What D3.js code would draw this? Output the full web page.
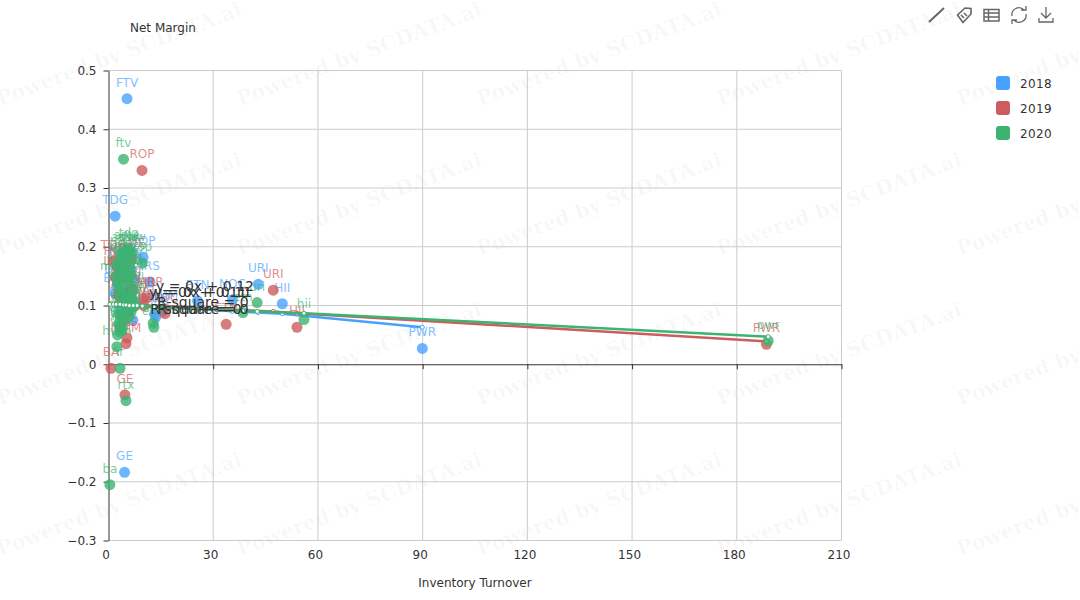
<!DOCTYPE html>
<html>
<head>
<meta charset="utf-8">
<script src="https://cdnjs.cloudflare.com/ajax/libs/d3/7.8.5/d3.min.js"></script>
<style>
  html, body { margin: 0; background: #fff; }
  svg { display: block; font-family: "DejaVu Sans", sans-serif; }
</style>
</head>
<body>
<div id="chart"></div>
<script>
// values
const years = ["2018", "2019", "2020"];
const colors = ["#47a2ff", "#cd5c5c", "#3cb371"];

const xTicks = [0, 30, 60, 90, 120, 150, 180, 210];
const yTicks = [-0.3, -0.2, -0.1, 0, 0.1, 0.2, 0.3, 0.4, 0.5];

const labels2018 = ["FTV", "TDG", "URI", "HII", "PWR", "GE", "ROP", "IRS", "AME", "ITW", "HON", "TDY", "ETN", "NOC", "EMR", "DOV", "BAC", "LMT", "GD", "HEI", "TXT", "PH", "CMI", "MMM", "FLS", "XYL", "PNR"];
const x2018 = [5.3, 1.9, 42.9, 49.8, 89.9, 4.6, 9.9, 11.9, 5.0, 6.5, 4.0, 4.5, 25.5, 35.5, 13.5, 2.5, 2.0, 3.6, 6.0, 3.0, 5.6, 13.2, 7.5, 15.5, 3.4, 4.9, 7.0];
const y2018 = [0.452, 0.252, 0.136, 0.103, 0.027, -0.184, 0.182, 0.14, 0.165, 0.16, 0.17, 0.115, 0.108, 0.11, 0.08, 0.135, 0.12, 0.095, 0.105, 0.155, 0.09, 0.085, 0.145, 0.09, 0.062, 0.125, 0.075];

const labels2019 = ["ROP", "URI", "HII", "PWR", "GE", "BA", "TDG", "AME", "HON", "TDY", "ETN", "NOC", "EMR", "MMM", "ITW", "CARR", "LMT", "GD", "RTX", "TXT", "HEI", "XYL", "DOV", "WAT", "PH", "FLS", "CMI"];
const x2019 = [9.6, 47.2, 54, 188.5, 4.7, 0.7, 1.4, 6.8, 2.5, 4.2, 33.7, 16.2, 9.8, 5.0, 6.0, 11, 2.0, 3.3, 5.4, 4.0, 6.6, 2.8, 7.2, 10.1, 4.6, 5.3, 3.6];
const y2019 = [0.33, 0.126, 0.063, 0.034, -0.052, -0.007, 0.175, 0.18, 0.165, 0.15, 0.068, 0.086, 0.112, 0.035, 0.122, 0.113, 0.148, 0.105, 0.09, 0.16, 0.13, 0.118, 0.098, 0.1, 0.075, 0.045, 0.17];

const labels2020 = ["ftv", "ame", "rop", "hii", "pwr", "ba", "rtx", "uri", "ir", "tdg", "tdy", "hon", "etn", "noc", "emr", "hwm", "itw", "lmt", "gd", "heico", "txt", "ph", "dov", "xyl", "cmi", "mmm", "fls", "irm", "pnr", "cat", "de", "otis", "carr", "wab", "aos", "alle", "gww", "ex", "cr", "cw", "dci", "ddd", "nvt", "jci", "lii", "mas", "nsc", "csx", "unp", "rsg", "wm", "ge"];
const x2020 = [4.3, 5.2, 9.7, 56, 189, 0.4, 5, 42.6, 3.3, 5.8, 2.2, 3.6, 38.5, 12.8, 13, 2.4, 3.4, 4.2, 5.4, 6.3, 2.9, 4.8, 6.0, 3.9, 7.1, 2.6, 3.0, 5.1, 4.5, 6.7, 3.2, 5.6, 7.6, 4.0, 3.8, 5.5, 6.8, 2.5, 3.5, 4.5, 5.5, 6.5, 3.0, 4.0, 5.8, 6.8, 3.5, 4.5, 5.8, 6.5, 3.0, 2.6];
const y2020 = [0.349, 0.192, 0.172, 0.076, 0.04, -0.205, -0.062, 0.105, -0.007, 0.197, 0.15, 0.18, 0.088, 0.07, 0.063, 0.03, 0.055, 0.165, 0.15, 0.175, 0.135, 0.12, 0.16, 0.105, 0.125, 0.14, 0.085, 0.095, 0.075, 0.11, 0.065, 0.14, 0.1, 0.06, 0.19, 0.19, 0.19, 0.17, 0.16, 0.155, 0.15, 0.15, 0.125, 0.12, 0.115, 0.11, 0.085, 0.085, 0.08, 0.09, 0.07, 0.05];

// regression lines with their marker points
const trendX2018 = [1.9, 3, 4, 5, 6, 7.5, 10, 13.5, 25.5, 35.5, 42.9, 49.8, 89.9];
const trendY2018 = [0.101, 0.101, 0.1, 0.1, 0.1, 0.099, 0.098, 0.097, 0.094, 0.09, 0.088, 0.086, 0.063];
const trendX2019 = [0.7, 2, 3.3, 4.7, 6, 7.2, 9.6, 16.2, 33.7, 47.2, 54, 188.5];
const trendY2019 = [0.103, 0.103, 0.102, 0.102, 0.102, 0.101, 0.1, 0.099, 0.093, 0.09, 0.087, 0.039];
const trendX2020 = [0.4, 1.4, 2.2, 3.3, 4.3, 5, 6, 7.1, 8.2, 9.7, 13, 38.5, 42.6, 56, 189];
const trendY2020 = [0.102, 0.102, 0.102, 0.102, 0.101, 0.101, 0.1, 0.1, 0.1, 0.099, 0.098, 0.091, 0.09, 0.087, 0.047];

const trendText = [
  ["y = 0x + 0.12", "R-square = 0"],
  ["y = 0x + 0.11", "R-square = 0"],
  ["y = 0x + 0.11", "R-square = 0"]
];

const width = 1080, height = 600;
const svg = d3.select("#chart").append("svg")
  .attr("width", width)
  .attr("height", height);

// watermark tiles
const marks = svg.append("g");
for (let r = 0; r < 4; r++) {
  for (let c = 0; c < 5; c++) {
    marks.append("text")
      .attr("transform", `translate(${c * 240},${106 + r * 150}) rotate(-20.5)`)
      .attr("font-family", "'DejaVu Serif', serif")
      .attr("font-weight", "bold")
      .attr("font-size", 20.5)
      .attr("fill", "rgba(0,0,0,0.035)")
      .text("Powered by SCDATA.ai");
  }
}

const x = d3.scaleLinear().domain([0, 210]).range([108.5, 841.5]);
const y = d3.scaleLinear().domain([-0.3, 0.5]).range([540.5, 70.5]);

// grid
const grid = svg.append("g").attr("stroke", "#ccc").attr("stroke-width", 1);
xTicks.slice(1).forEach(t => {
  grid.append("line").attr("x1", x(t)).attr("x2", x(t)).attr("y1", y(0.5)).attr("y2", y(-0.3));
});
yTicks.filter(t => t !== 0).forEach(t => {
  grid.append("line").attr("x1", x(0)).attr("x2", x(210)).attr("y1", y(t)).attr("y2", y(t));
});

// axes
const xAxis = svg.append("g")
  .attr("transform", `translate(0,${y(0)})`)
  .call(d3.axisBottom(x).tickValues(xTicks).tickSize(5).tickSizeOuter(0).tickFormat(d3.format("d")));
xAxis.selectAll("text")
  .attr("transform", `translate(-3,${y(-0.3) - y(0) + 2})`);

const yAxis = svg.append("g")
  .attr("transform", `translate(${x(0)},0)`)
  .call(d3.axisLeft(y).tickValues(yTicks).tickSize(5).tickSizeOuter(0).tickPadding(7).tickFormat(d => d === 0 ? "0" : d3.format(".1f")(d)));

[xAxis, yAxis].forEach(a => {
  a.selectAll("path, line").attr("stroke", "#333");
  a.selectAll("text").attr("fill", "#333").attr("font-size", 12).attr("font-family", "'DejaVu Sans', sans-serif");
});

svg.append("text").attr("x", 130).attr("y", 32).attr("font-size", 12).attr("fill", "#333").text("Net Margin");
svg.append("text").attr("x", 475).attr("y", 587).attr("font-size", 12).attr("fill", "#333").attr("text-anchor", "middle").text("Inventory Turnover");

// series
const series = [
  { labels: labels2018, xs: x2018, ys: y2018, tx: trendX2018, ty: trendY2018 },
  { labels: labels2019, xs: x2019, ys: y2019, tx: trendX2019, ty: trendY2019 },
  { labels: labels2020, xs: x2020, ys: y2020, tx: trendX2020, ty: trendY2020 }
];

series.forEach((s, i) => {
  const g = svg.append("g");
  const pts = s.xs.map((v, k) => ({ x: v, y: s.ys[k], name: s.labels[k] }));

  g.selectAll("circle").data(pts).join("circle")
    .attr("cx", d => x(d.x))
    .attr("cy", d => y(d.y))
    .attr("r", 5.5)
    .attr("fill", colors[i])
    .attr("fill-opacity", 0.8);

  g.selectAll("text").data(pts).join("text")
    .attr("x", d => x(d.x))
    .attr("y", d => y(d.y) - 12)
    .attr("text-anchor", "middle")
    .attr("font-size", 12)
    .attr("fill", colors[i])
    .attr("fill-opacity", 0.7)
    .text(d => d.name);

  const line = d3.line().x(d => x(d[0])).y(d => y(d[1]));
  const tr = s.tx.map((v, k) => [v, s.ty[k]]);
  g.append("path")
    .attr("d", line(tr))
    .attr("fill", "none")
    .attr("stroke", colors[i])
    .attr("stroke-width", 2.5);
  g.selectAll(".dot").data(tr).join("circle")
    .attr("class", "dot")
    .attr("cx", d => x(d[0]))
    .attr("cy", d => y(d[1]))
    .attr("r", 2)
    .attr("fill", "#fff")
    .attr("stroke", colors[i])
    .attr("stroke-width", 1);
});

// regression equations, they sit on top of each other in the original
const eqPos = [[205, 291, 203, 307], [198, 297, 196, 314], [203, 297, 203, 314]];
trendText.forEach((t, i) => {
  t.forEach((str, k) => {
    svg.append("text")
      .attr("x", eqPos[i][k * 2])
      .attr("y", eqPos[i][k * 2 + 1])
      .attr("text-anchor", "middle")
      .attr("font-size", 14)
      .attr("fill", "#333")
      .text(str);
  });
});

// legend
years.forEach((yr, i) => {
  const ly = 76 + i * 25;
  svg.append("rect")
    .attr("x", 996).attr("y", ly)
    .attr("width", 14).attr("height", 14)
    .attr("rx", 3)
    .attr("fill", colors[i]);
  svg.append("text")
    .attr("x", 1020).attr("y", ly + 11.5)
    .attr("font-size", 12)
    .attr("letter-spacing", 0.4)
    .attr("fill", "#333")
    .text(yr);
});

// toolbox icons
const icons = svg.append("g").attr("fill", "none").attr("stroke", "#666").attr("stroke-width", 1.3);
icons.append("path").attr("d", "M929 22 L944 8").attr("stroke-width", 2);
icons.append("path").attr("d", "M957.5 15 L965 8 L971 8.5 L971 14 L963 22.5 Z M961 15 L964 18 M964 13 L967 16").attr("stroke-width", 1.6);
icons.append("path").attr("d", "M984 9.5 H999 V21 H984 Z M984 13 H999 M984 17 H999 M988.5 9.5 V21").attr("stroke-width", 1.5);
icons.append("path").attr("d", "M1012 16 A7 7 0 0 1 1024 10 M1026 14 A7 7 0 0 1 1014 20 M1021 10 H1026 V6 M1017 20 H1012 V24");
icons.append("path").attr("d", "M1046 7 V18 M1041 13 L1046 18 L1051 13 M1039 18 V22 H1053 V18");
</script>
</body>
</html>
